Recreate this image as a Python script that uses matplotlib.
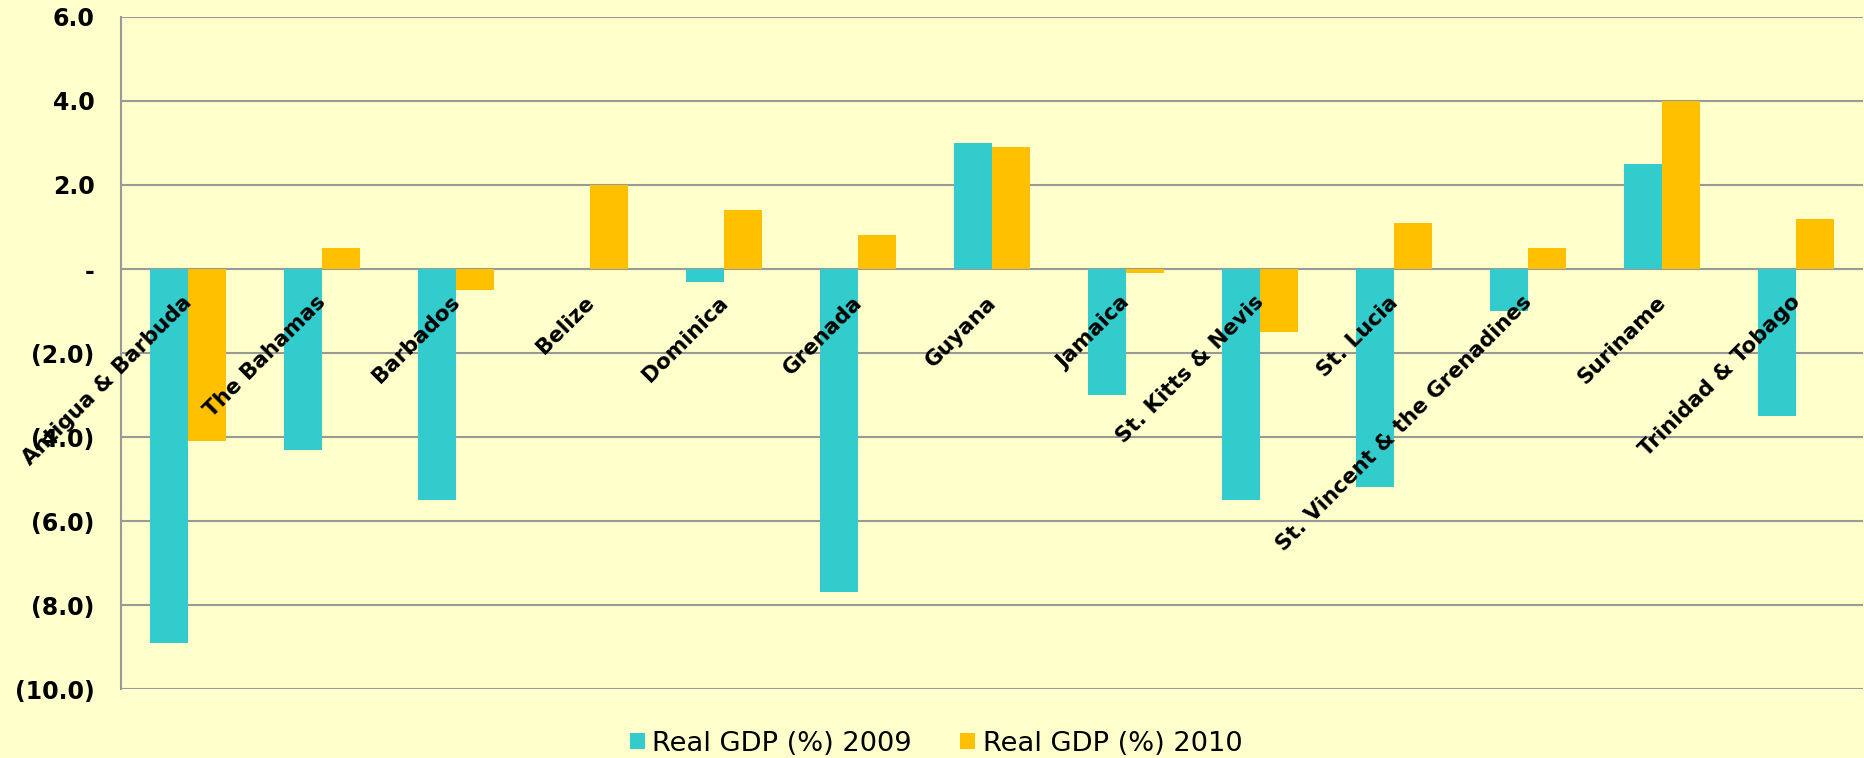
import matplotlib
matplotlib.use("Agg")
import matplotlib.pyplot as plt
from matplotlib.ticker import FuncFormatter
from matplotlib.patches import Patch
import numpy as np

countries = ['Antigua & Barbuda', 'The Bahamas', 'Barbados', 'Belize', 'Dominica',
             'Grenada', 'Guyana', 'Jamaica', 'St. Kitts & Nevis', 'St. Lucia',
             'St. Vincent & the Grenadines', 'Suriname', 'Trinidad & Tobago']
gdp_2009 = [-8.9, -4.3, -5.5, 0.0, -0.3, -7.7, 3.0, -3.0, -5.5, -5.2, -1.0, 2.5, -3.5]
gdp_2010 = [-4.1, 0.5, -0.5, 2.0, 1.4, 0.8, 2.9, -0.1, -1.5, 1.1, 0.5, 4.0, 1.2]
series_names = ['Real GDP (%) 2009', 'Real GDP (%) 2010']
yticks = [6, 4, 2, 0, -2, -4, -6, -8, -10]

bg = '#FFFFCC'
teal = '#33CCCC'
gold = '#FFC000'
gridc = '#999999'

fig = plt.figure(figsize=(18.65, 7.58), dpi=100)
fig.patch.set_facecolor(bg)
ax = fig.add_axes([121/1865, 1-689/758, 1742/1865, 672/758])
ax.set_facecolor(bg)

x = np.arange(len(countries))
w = 0.287
ax.bar(x - w/2, gdp_2009, w, color=teal, zorder=3)
ax.bar(x + w/2, gdp_2010, w, color=gold, zorder=3)

ax.set_xlim(-0.5, len(countries) - 0.5)
ax.set_ylim(-10, 6)
ax.set_yticks(yticks)

def acct(v, pos):
    if abs(v) < 1e-9:
        return '-'
    if v < 0:
        return '(%.1f)' % abs(v)
    return '%.1f' % v

ax.yaxis.set_major_formatter(FuncFormatter(acct))
ax.yaxis.grid(True, color=gridc, lw=1.5, zorder=1)
ax.tick_params(axis='y', length=0, pad=19, labelsize=17)
for t in ax.get_yticklabels():
    t.set_fontweight('bold')
ax.set_xticks([])

for s in ['top', 'right', 'bottom']:
    ax.spines[s].set_visible(False)
ax.spines['left'].set_color(gridc)
ax.spines['left'].set_linewidth(1.5)

# category labels hang just below the zero line
for i, name in enumerate(countries):
    ax.annotate(name, xy=(i, 0), xytext=(-6, -23), textcoords='offset pixels',
                ha='right', va='top', rotation=45, rotation_mode='anchor',
                fontsize=15.5, fontweight='bold', zorder=5)

handles = [Patch(facecolor=teal), Patch(facecolor=gold)]
fig.legend(handles, series_names, loc='center', bbox_to_anchor=(936/1865, 1-744/758),
           ncol=2, frameon=False, handlelength=0.55, handleheight=0.52,
           handletextpad=0.26, columnspacing=1.8, borderpad=0,
           prop={'family': 'DejaVu Sans', 'size': 19.6})

plt.savefig('out.png', dpi=100, facecolor=bg)
